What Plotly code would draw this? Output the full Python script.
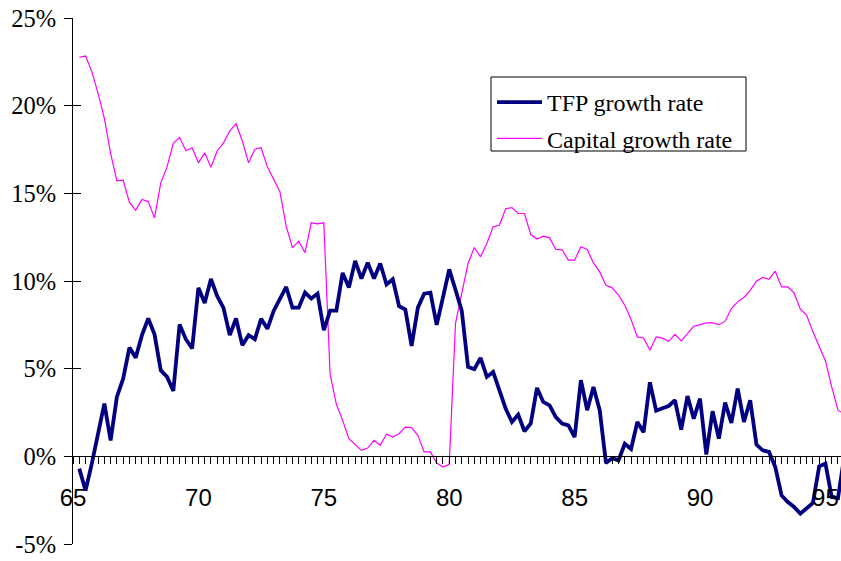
import plotly.graph_objects as go

# Quarterly growth rates (%), 1965Q2 onwards
tfp = [-0.70, -1.95, -0.42, 1.29, 3.01, 0.91, 3.39, 4.43, 6.20, 5.63,
       6.91, 7.86, 6.96, 4.91, 4.53, 3.73, 7.52, 6.68, 6.15, 9.61,
       8.75, 10.12, 9.13, 8.47, 6.91, 7.86, 6.34, 6.91, 6.68, 7.85,
       7.27, 8.29, 9.00, 9.66, 8.48, 8.48, 9.34, 9.00, 9.28, 7.19,
       8.31, 8.31, 10.46, 9.63, 11.15, 10.14, 11.05, 10.14, 11.00, 9.80,
       10.10, 8.56, 8.37, 6.30, 8.48, 9.28, 9.34, 7.50, 9.06, 10.66,
       9.50, 8.30, 5.10, 4.97, 5.61, 4.53, 4.81, 3.77, 2.72, 1.96,
       2.38, 1.43, 1.87, 3.90, 3.10, 2.91, 2.24, 1.87, 1.77, 1.10,
       4.34, 2.63, 3.96, 2.63, -0.38, -0.10, -0.23, 0.72, 0.42, 1.96,
       1.37, 4.22, 2.60, 2.74, 2.87, 3.20, 1.52, 3.44, 2.15, 3.29,
       0.10, 2.57, 1.01, 3.06, 1.90, 3.86, 1.96, 3.20, 0.67, 0.34,
       0.25, -0.61, -2.23, -2.61, -2.89, -3.27, -2.99, -2.66, -0.57, -0.42,
       -2.32, -2.38, 0.00]

capital = [22.76, 22.83, 21.94, 20.70, 19.27, 17.28, 15.71, 15.75, 14.48, 14.04,
           14.65, 14.53, 13.60, 15.60, 16.51, 17.85, 18.19, 17.43, 17.60, 16.74,
           17.31, 16.48, 17.43, 17.88, 18.55, 18.97, 18.00, 16.74, 17.52, 17.60,
           16.51, 15.81, 15.09, 13.13, 11.89, 12.27, 11.62, 13.32, 13.26, 13.32,
           4.68, 2.97, 2.05, 1.01, 0.67, 0.34, 0.47, 0.91, 0.63, 1.26,
           1.10, 1.29, 1.67, 1.64, 1.20, 0.25, 0.25, -0.38, -0.61, -0.46,
           7.59, 9.20, 11.00, 11.91, 11.38, 12.14, 13.09, 13.18, 14.12, 14.19,
           13.85, 13.85, 12.65, 12.39, 12.56, 12.46, 11.80, 11.78, 11.19, 11.19,
           11.95, 11.80, 11.03, 10.52, 9.76, 9.61, 9.19, 8.62, 7.80, 6.81,
           6.75, 6.05, 6.81, 6.74, 6.56, 6.96, 6.58, 7.00, 7.42, 7.51,
           7.61, 7.61, 7.51, 7.71, 8.43, 8.81, 9.06, 9.47, 9.99, 10.20,
           10.10, 10.56, 9.66, 9.66, 9.32, 8.39, 8.05, 7.10, 6.24, 5.44,
           3.96, 2.63, 2.40]

# time index in years (quarterly steps)
quarters = [65.25 + 0.25 * i for i in range(len(tfp))]

y_ticks = [-5, 0, 5, 10, 15, 20, 25]
y_tick_text = ["-5%", "0%", "5%", "10%", "15%", "20%", "25%"]
x_ticks = [65, 70, 75, 80, 85, 90, 95]
x_tick_text = ["65", "70", "75", "80", "85", "90", "95"]

serif = "Liberation Serif, Times New Roman, serif"
sans = "Liberation Sans, Arial, sans-serif"

# plot-area geometry in pixels (for legend box placement)
L, T, W, H = 73, 18, 768, 526


def px_x(p):
    return (p - L) / W


def px_y(p):
    return 1 - (p - T) / H


fig = go.Figure()
fig.add_trace(go.Scatter(x=quarters, y=capital, mode="lines", name="Capital growth rate",
                         line=dict(color="#FF00FF", width=1.2), legendrank=2,
                         legendgroup="b"))
fig.add_trace(go.Scatter(x=quarters, y=tfp, mode="lines", name="TFP growth rate",
                         line=dict(color="#000080", width=3.8), legendrank=1,
                         legendgroup="a"))
# invisible trace to create the inside half of the crossing y ticks
fig.add_trace(go.Scatter(x=[quarters[0]], y=[tfp[0]], yaxis="y2", mode="lines",
                         showlegend=False, hoverinfo="skip",
                         line=dict(color="rgba(0,0,0,0)")))

axis_pos = (0 - (-5)) / (25 - (-5))

fig.update_layout(
    width=841, height=561,
    margin=dict(l=L, r=841 - L - W, t=T, b=561 - T - H, autoexpand=False),
    paper_bgcolor="white", plot_bgcolor="white",
    showlegend=True,
    legend=dict(x=px_x(492), y=px_y(80), xanchor="left", yanchor="top",
                bgcolor="rgba(0,0,0,0)", borderwidth=0,
                font=dict(family=serif, size=24, color="black"),
                tracegroupgap=2, traceorder="grouped", itemwidth=45),
    shapes=[dict(type="rect", xref="paper", yref="paper",
                 x0=px_x(491), x1=px_x(746), y0=px_y(151), y1=px_y(77),
                 fillcolor="white", line=dict(color="black", width=1), layer="above")],
    xaxis=dict(range=[65, 95.62], anchor="free", position=axis_pos, automargin=False,
               tickvals=x_ticks, ticktext=x_tick_text,
               showline=True, linecolor="black", linewidth=1,
               ticks="outside", ticklen=7, tickcolor="black", tickwidth=1,
               tickfont=dict(family=sans, size=24, color="black"),
               ticklabelstandoff=13,
               minor=dict(dtick=0.25, tick0=65, ticks="outside", ticklen=7,
                          tickcolor="black", tickwidth=1, showgrid=False),
               showgrid=False, zeroline=False),
    yaxis=dict(range=[-5, 25], tickvals=y_ticks, ticktext=y_tick_text, automargin=False,
               showline=True, linecolor="black", linewidth=1,
               ticks="outside", ticklen=8, tickcolor="black",
               tickfont=dict(family=serif, size=24.5, color="black"),
               ticklabelstandoff=3,
               showgrid=False, zeroline=False),
    yaxis2=dict(range=[-5, 25], overlaying="y", side="left", anchor="x", automargin=False,
                tickvals=y_ticks, ticks="inside", ticklen=8, tickcolor="black",
                showticklabels=False, showline=False, showgrid=False, zeroline=False),
)

fig.write_html("out.html", config={"displayModeBar": False},
               post_script="document.body.style.margin='0px';document.body.style.overflow='hidden';")
